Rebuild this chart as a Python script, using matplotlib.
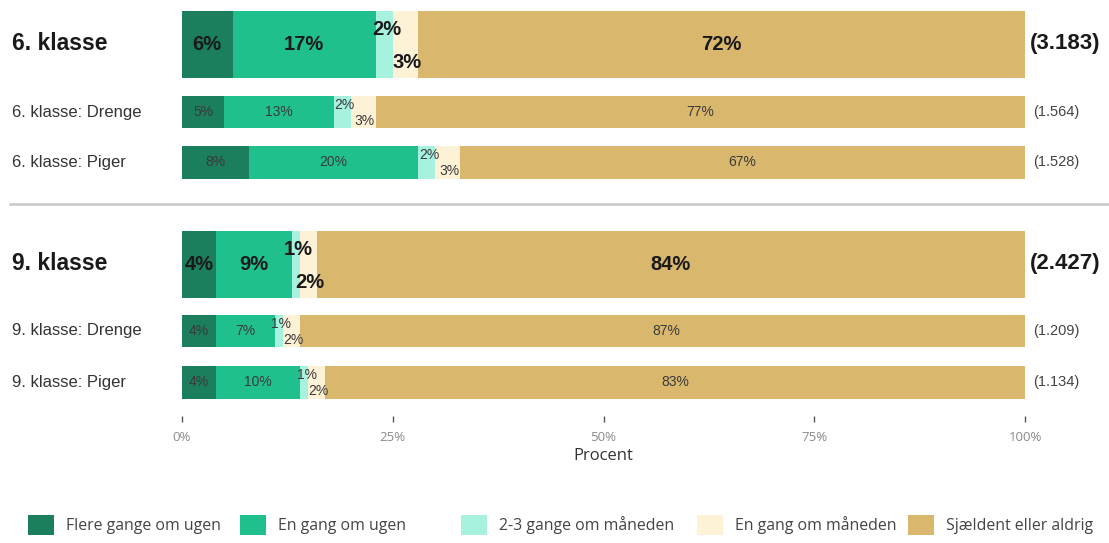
import matplotlib
matplotlib.use("Agg")
from matplotlib import pyplot as plt
from matplotlib.lines import Line2D
from matplotlib.patches import Patch
from matplotlib import transforms

# data
rows = ["6. klasse", "6. klasse: Drenge", "6. klasse: Piger",
        "9. klasse", "9. klasse: Drenge", "9. klasse: Piger"]
counts = ["(3.183)", "(1.564)", "(1.528)", "(2.427)", "(1.209)", "(1.134)"]
categories = ["Flere gange om ugen", "En gang om ugen", "2-3 gange om måneden",
              "En gang om måneden", "Sjældent eller aldrig"]
flere_uge = [6, 5, 8, 4, 4, 4]
en_uge = [17, 13, 20, 9, 7, 10]
to_tre_maaned = [2, 2, 2, 1, 1, 1]
en_maaned = [3, 3, 3, 2, 2, 2]
sjaeldent = [72, 77, 67, 84, 87, 83]
series = [flere_uge, en_uge, to_tre_maaned, en_maaned, sjaeldent]

colors = ["#1b7e5c", "#1fbf8e", "#a6f2de", "#fdf1d6", "#d9b86e"]

# layout (y in pixel-like units, top = 0)
ypos = [44, 112, 162, 264, 331, 382]
heights = [67, 32, 33, 67, 32, 33]
is_total = [True, False, False, True, False, False]
legend_x = [28, 240, 461, 697, 908]

W, H = 1109, 543
fig = plt.figure(figsize=(W / 100, H / 100), dpi=100)
ax = fig.add_axes([182 / W, 1 - 416 / H, 843 / W, 416 / H])
ax.set_xlim(0, 100)
ax.set_ylim(416, 0)

for i in range(len(rows)):
    left = 0
    small_idx = 0
    for s, vals in enumerate(series):
        v = vals[i]
        ax.barh(ypos[i], v, left=left, height=heights[i], color=colors[s],
                edgecolor="none")
        cx = left + v / 2
        cy = ypos[i]
        if v < 4 and s in (2, 3):
            # staggered labels for thin segments
            if small_idx == 0:
                cy = ypos[i] - heights[i] * 0.22
                cx = left + v / 2 + 0.3
            else:
                cy = ypos[i] + heights[i] * 0.28
                cx = left + v / 2 + 0.2
            small_idx += 1
        if is_total[i]:
            ax.text(cx, cy, f"{v}%", ha="center", va="center", fontsize=14.5,
                    fontweight="bold", color="#1a1a1a", family="Liberation Sans",
                    clip_on=False)
        else:
            ax.text(cx, cy, f"{v}%", ha="center", va="center", fontsize=10,
                    color="#3a3a3a", family="Liberation Sans", clip_on=False)
        left += v

# row labels and counts
trans = transforms.blended_transform_factory(fig.transFigure, ax.transData)
for i, name in enumerate(rows):
    if is_total[i]:
        ax.text(12 / W, ypos[i], name, transform=trans, ha="left", va="center",
                fontsize=16.5, fontweight="bold", color="#1a1a1a",
                family="Liberation Sans")
        ax.text(1030 / W, ypos[i], counts[i], transform=trans, ha="left",
                va="center", fontsize=16, fontweight="bold", color="#1a1a1a",
                family="Liberation Sans")
    else:
        ax.text(12 / W, ypos[i], name, transform=trans, ha="left", va="center",
                fontsize=12, color="#333333", family="Liberation Sans")
        ax.text(1033 / W, ypos[i], counts[i], transform=trans, ha="left",
                va="center", fontsize=10.5, color="#444444",
                family="Liberation Sans")

# separator
fig.add_artist(Line2D([10 / W, 1], [1 - 204 / H, 1 - 204 / H],
                      color="#c8c8c8", linewidth=1.8))

for sp in ax.spines.values():
    sp.set_visible(False)
ax.set_yticks([])
ax.set_xticks([0, 25, 50, 75, 100])
ax.set_xticklabels(["0%", "25%", "50%", "75%", "100%"])
ax.tick_params(axis="x", length=4, width=1, color="#555555", pad=7,
               labelsize=9.5, labelcolor="#8a8a8a")
for lbl in ax.get_xticklabels():
    lbl.set_family("Open Sans")
ax.set_xlabel("Procent", fontsize=12, color="#333333", family="Open Sans",
              labelpad=3)

# legend: one entry per column position
for c, name, lx in zip(colors, categories, legend_x):
    leg = fig.legend([Patch(facecolor=c, edgecolor="none")], [name],
                     loc="center left", bbox_to_anchor=(lx / W, 1 - 525 / H),
                     frameon=False, borderpad=0, borderaxespad=0,
                     handlelength=1.65, handleheight=1.65, handletextpad=0.75,
                     prop={"family": "Open Sans", "size": 11.4},
                     labelcolor="#444444")

fig.savefig("out.png", dpi=100)
